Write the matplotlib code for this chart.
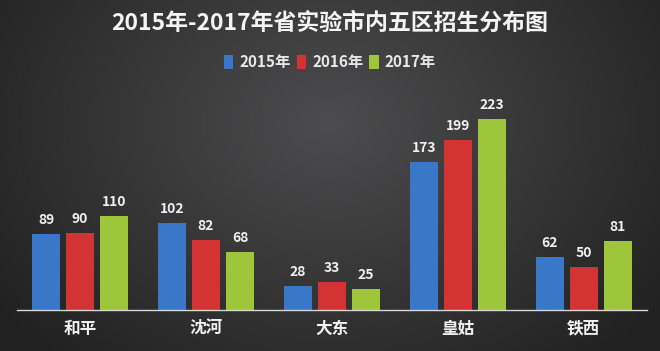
import matplotlib
matplotlib.use('Agg')
import matplotlib.pyplot as plt
import numpy as np

plt.rcParams['font.family'] = ['Noto Sans CJK SC', 'DejaVu Sans']

districts = ['和平', '沈河', '大东', '皇姑', '铁西']
years = ['2015年', '2016年', '2017年']
counts_2015 = [89, 102, 28, 173, 62]
counts_2016 = [90, 82, 33, 199, 50]
counts_2017 = [110, 68, 25, 223, 81]
colors = ['#3a77c8', '#d43333', '#9dc63b']

fig = plt.figure(figsize=(6.6, 3.51), dpi=100)

# dark gradient background, lighter around the upper middle
bg = fig.add_axes([0, 0, 1, 1])
yy, xx = np.mgrid[0:1:200j, 0:1:400j]
r = np.sqrt(((xx - 0.5) * 1.6) ** 2 + ((yy - 0.35) * 1.1) ** 2)
g = np.clip(0.30 - 0.17 * r, 0.13, 0.30)
rgb = np.dstack([g, g, g * 1.02])
bg.imshow(np.clip(rgb, 0, 1), aspect='auto', extent=[0, 1, 0, 1])
bg.set_axis_off()

ax = fig.add_axes([0.026, 0.117, 0.954, 0.61])
ax.set_facecolor('none')

x = np.arange(len(districts))
width = 0.222
offset = 0.27
for i, (vals, yr) in enumerate(zip([counts_2015, counts_2016, counts_2017], years)):
    pos = x + (i - 1) * offset
    ax.bar(pos, vals, width, color=colors[i], label=yr)
    for p, v in zip(pos, vals):
        ax.text(p, v + 8, str(v), ha='center', va='bottom', color='#f0f0f0',
                fontsize=10, fontweight='bold')

ax.set_xlim(-0.5, 4.5)
ax.set_ylim(0, 250)
ax.set_yticks([])
ax.set_xticks(x)
ax.set_xticklabels(districts, color='#f0f0f0', fontsize=12, fontweight='bold')
ax.tick_params(axis='x', length=0, pad=7)
for s in ['top', 'right', 'left']:
    ax.spines[s].set_visible(False)
ax.spines['bottom'].set_color('#d8d8d8')
ax.spines['bottom'].set_linewidth(1)

fig.text(0.5, 0.935, '2015年-2017年省实验市内五区招生分布图', ha='center', va='center',
         color='#f4f4f4', fontsize=16.5, fontweight='bold')
fig.legend(loc='center', bbox_to_anchor=(0.5, 0.823), ncol=3, frameon=False,
           prop={'size': 11, 'weight': 'bold'}, labelcolor='#e8e8e8',
           handlelength=0.6, handleheight=1.0, handletextpad=0.4, columnspacing=0.4)

fig.savefig('out.png', dpi=100)
